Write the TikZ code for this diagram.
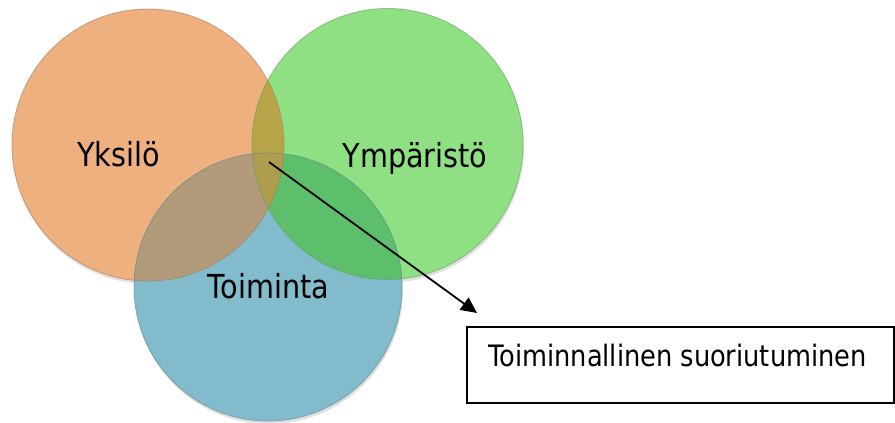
\documentclass[tikz,border=0pt]{standalone}
\usepackage{fontspec}
\setmainfont{DejaVu Sans}
\usetikzlibrary{arrows.meta}
\definecolor{orangeF}{HTML}{EEB07F}
\definecolor{greenF}{HTML}{8FE083}
\definecolor{blueF}{HTML}{82BCCC}
\definecolor{ogF}{HTML}{B8A54A}
\definecolor{gbF}{HTML}{5DBF6B}
\definecolor{obF}{HTML}{B39A7A}
\definecolor{ogbF}{HTML}{AC9E4E}
\tikzset{
  circlab/.style={font=\fontsize{33}{36}\selectfont, anchor=base, text=black, inner sep=0pt},
  boxlab/.style={font=\fontsize{29.5}{33}\selectfont, anchor=base west, inner sep=0pt},
  rim/.style={draw=#1, line width=0.8pt},
  connector/.style={line width=1.8pt, -{Triangle[length=16pt,width=15pt]}},
  resultbox/.style={draw=black, line width=1.8pt}
}
\newcommand{\tx}[1]{\scalebox{0.87}[1]{#1}}
\begin{document}
\begin{tikzpicture}[x=1pt,y=-1pt]
\useasboundingbox (0,0) rectangle (895,423);
% circle centres
\coordinate (cO) at (148,145);
\coordinate (cG) at (387.5,144);
\coordinate (cB) at (268,287);
% soft shadows
\fill[black!12] (149,148) circle (136);
\fill[black!12] (388.5,147) circle (135.5);
\fill[black!12] (269,290) circle (134);
% base fills
\fill[orangeF] (cO) circle (136);
\fill[greenF] (cG) circle (135.5);
\fill[blueF] (cB) circle (134);
% pairwise overlaps
\begin{scope}
  \clip (cO) circle (136);
  \fill[ogF] (cG) circle (135.5);
\end{scope}
\begin{scope}
  \clip (cO) circle (136);
  \fill[obF] (cB) circle (134);
\end{scope}
\begin{scope}
  \clip (cG) circle (135.5);
  \fill[gbF] (cB) circle (134);
\end{scope}
\begin{scope}
  \clip (cO) circle (136);
  \clip (cG) circle (135.5);
  \fill[ogbF] (cB) circle (134);
\end{scope}
% rims
\draw[rim=orangeF!70!black, draw opacity=0.6] (cO) circle (136);
\draw[rim=greenF!70!black, draw opacity=0.6] (cG) circle (135.5);
\draw[rim=blueF!70!black, draw opacity=0.6] (cB) circle (134);
% labels
\node[circlab] (yks) at (118.5,166) {\tx{Yksilö}};
\node[circlab] (ymp) at (415,167) {\tx{Ympäristö}};
\node[circlab] (toi) at (268.5,298) {\tx{Toiminta}};
% result box
\node[resultbox, minimum width=427pt, minimum height=76pt, anchor=north west, inner sep=0pt] (box) at (466,326) {};
\node[boxlab] (boxtext) at (488,366) {\tx{Toiminnallinen suoriutuminen}};
% connector
\coordinate (start) at (269,162);
\coordinate (tip) at (477,313);
\draw[connector] (start) -- (tip);
\end{tikzpicture}
\end{document}
